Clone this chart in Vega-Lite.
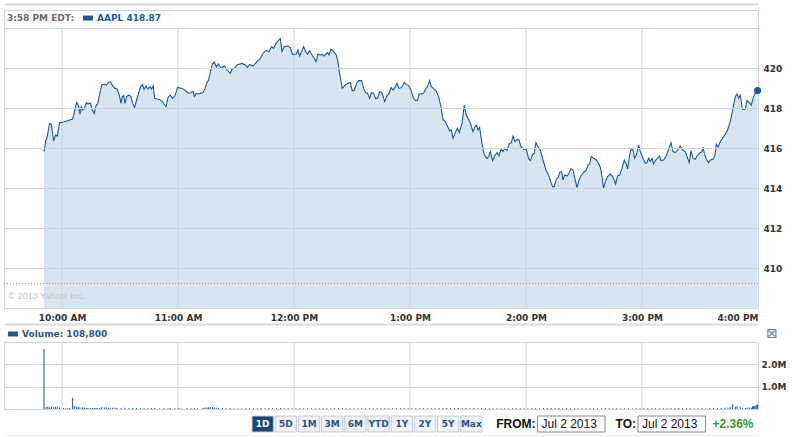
{
"$schema": "https://vega.github.io/schema/vega-lite/v6.json",
"padding": {"left": 3, "top": 3, "right": 0, "bottom": 0},
"background": "white",
"spacing": 0,
"config": {
  "font": "DejaVu Sans",
  "view": {"stroke": "#c9d6e2", "strokeWidth": 1},
  "axis": {"labelFont": "DejaVu Sans", "labelFontWeight": "bold", "labelFontSize": 9, "labelColor": "#333333", "domain": false, "ticks": false, "gridColor": "#c9d6e2", "gridOpacity": 1, "gridWidth": 1, "title": null}
},
"resolve": {"scale": {"x": "independent", "y": "independent", "color": "independent"}, "legend": {"color": "independent"}},
"datasets": {
  "hours": [{"t":"2013-07-02T10:00:00"},{"t":"2013-07-02T11:00:00"},{"t":"2013-07-02T12:00:00"},{"t":"2013-07-02T13:00:00"},{"t":"2013-07-02T14:00:00"},{"t":"2013-07-02T15:00:00"}],
  "last": [{"t":"2013-07-02T15:59:47","p":418.87}],
  "prevclose": [{"p":409.22}],
  "price": [
{"t":"2013-07-02T09:50:41","p":415.82},{"t":"2013-07-02T09:51:43","p":416.4},{"t":"2013-07-02T09:52:24","p":416.6},{"t":"2013-07-02T09:53:35","p":417.23},{"t":"2013-07-02T09:54:28","p":417.2},{"t":"2013-07-02T09:55:39","p":416.35},{"t":"2013-07-02T09:56:41","p":416.65},{"t":"2013-07-02T09:57:34","p":416.6},{"t":"2013-07-02T09:58:45","p":417.27},{"t":"2013-07-02T10:00:50","p":417.3},
{"t":"2013-07-02T10:05:29","p":417.45},{"t":"2013-07-02T10:06:22","p":417.78},{"t":"2013-07-02T10:07:33","p":418.28},{"t":"2013-07-02T10:08:26","p":418.15},{"t":"2013-07-02T10:09:19","p":417.68},{"t":"2013-07-02T10:09:59","p":418.07},{"t":"2013-07-02T10:10:39","p":417.9},{"t":"2013-07-02T10:11:32","p":417.98},{"t":"2013-07-02T10:12:34","p":418.27},{"t":"2013-07-02T10:13:27","p":418.2},
{"t":"2013-07-02T10:14:38","p":418.25},{"t":"2013-07-02T10:15:40","p":417.9},{"t":"2013-07-02T10:16:42","p":417.73},{"t":"2013-07-02T10:17:35","p":418.12},{"t":"2013-07-02T10:18:25","p":418.2},{"t":"2013-07-02T10:20:29","p":419.15},{"t":"2013-07-02T10:21:53","p":419.2},{"t":"2013-07-02T10:22:55","p":419.15},{"t":"2013-07-02T10:23:57","p":419.27},{"t":"2013-07-02T10:24:59","p":419.32},
{"t":"2013-07-02T10:26:10","p":419.12},{"t":"2013-07-02T10:27:25","p":418.98},{"t":"2013-07-02T10:28:27","p":418.95},{"t":"2013-07-02T10:29:38","p":418.65},{"t":"2013-07-02T10:30:31","p":418.23},{"t":"2013-07-02T10:31:11","p":418.57},{"t":"2013-07-02T10:31:52","p":418.62},{"t":"2013-07-02T10:32:35","p":418.23},{"t":"2013-07-02T10:33:25","p":418.57},{"t":"2013-07-02T10:34:39","p":418.65},
{"t":"2013-07-02T10:35:41","p":418.57},{"t":"2013-07-02T10:36:31","p":418.23},{"t":"2013-07-02T10:37:33","p":418.03},{"t":"2013-07-02T10:38:35","p":418.4},{"t":"2013-07-02T10:39:37","p":418.73},{"t":"2013-07-02T10:40:39","p":419.07},{"t":"2013-07-02T10:41:41","p":419.18},{"t":"2013-07-02T10:42:25","p":418.93},{"t":"2013-07-02T10:43:27","p":419.1},{"t":"2013-07-02T10:44:29","p":418.95},
{"t":"2013-07-02T10:45:31","p":419.07},{"t":"2013-07-02T10:46:21","p":418.95},{"t":"2013-07-02T10:47:13","p":419.12},{"t":"2013-07-02T10:47:54","p":418.48},{"t":"2013-07-02T10:49:08","p":418.45},{"t":"2013-07-02T10:50:29","p":418.43},{"t":"2013-07-02T10:51:53","p":418.32},{"t":"2013-07-02T10:52:46","p":418.2},{"t":"2013-07-02T10:53:47","p":418.07},{"t":"2013-07-02T10:54:50","p":418.53},
{"t":"2013-07-02T10:56:01","p":418.65},{"t":"2013-07-02T10:57:13","p":418.48},{"t":"2013-07-02T10:58:27","p":418.62},{"t":"2013-07-02T10:59:48","p":419.03},{"t":"2013-07-02T11:02:04","p":418.98},{"t":"2013-07-02T11:03:25","p":418.9},{"t":"2013-07-02T11:04:39","p":418.8},{"t":"2013-07-02T11:05:41","p":418.73},{"t":"2013-07-02T11:06:43","p":418.77},{"t":"2013-07-02T11:07:46","p":418.83},
{"t":"2013-07-02T11:08:26","p":418.57},{"t":"2013-07-02T11:09:19","p":418.73},{"t":"2013-07-02T11:10:08","p":418.7},{"t":"2013-07-02T11:11:32","p":418.73},{"t":"2013-07-02T11:12:56","p":418.77},{"t":"2013-07-02T11:13:58","p":418.98},{"t":"2013-07-02T11:15:00","p":419.27},{"t":"2013-07-02T11:15:50","p":419.4},{"t":"2013-07-02T11:16:43","p":419.8},{"t":"2013-07-02T11:17:45","p":420.2},
{"t":"2013-07-02T11:18:47","p":420.3},{"t":"2013-07-02T11:19:49","p":420.05},{"t":"2013-07-02T11:20:51","p":420.2},{"t":"2013-07-02T11:22:24","p":420.0},{"t":"2013-07-02T11:23:57","p":420.1},{"t":"2013-07-02T11:25:30","p":419.9},{"t":"2013-07-02T11:27:03","p":419.73},{"t":"2013-07-02T11:27:56","p":419.93},{"t":"2013-07-02T11:29:07","p":419.98},{"t":"2013-07-02T11:30:31","p":420.15},
{"t":"2013-07-02T11:33:06","p":420.23},{"t":"2013-07-02T11:34:49","p":420.15},{"t":"2013-07-02T11:36:00","p":420.03},{"t":"2013-07-02T11:37:02","p":420.18},{"t":"2013-07-02T11:38:47","p":420.1},{"t":"2013-07-02T11:40:52","p":420.32},{"t":"2013-07-02T11:42:34","p":420.48},{"t":"2013-07-02T11:44:17","p":420.77},{"t":"2013-07-02T11:45:40","p":420.87},{"t":"2013-07-02T11:47:04","p":420.82},
{"t":"2013-07-02T11:48:25","p":421.07},{"t":"2013-07-02T11:49:27","p":420.98},{"t":"2013-07-02T11:50:41","p":421.23},{"t":"2013-07-02T11:51:43","p":421.35},{"t":"2013-07-02T11:52:55","p":421.48},{"t":"2013-07-02T11:53:47","p":420.82},{"t":"2013-07-02T11:54:59","p":421.07},{"t":"2013-07-02T11:56:41","p":421.1},{"t":"2013-07-02T11:58:05","p":421.02},{"t":"2013-07-02T11:59:07","p":420.7},
{"t":"2013-07-02T12:00:10","p":420.68},{"t":"2013-07-02T12:01:11","p":420.7},{"t":"2013-07-02T12:02:04","p":420.9},{"t":"2013-07-02T12:02:54","p":420.6},{"t":"2013-07-02T12:03:56","p":420.82},{"t":"2013-07-02T12:04:58","p":421.07},{"t":"2013-07-02T12:06:00","p":420.82},{"t":"2013-07-02T12:07:02","p":420.7},{"t":"2013-07-02T12:08:04","p":420.87},{"t":"2013-07-02T12:09:19","p":420.65},
{"t":"2013-07-02T12:10:30","p":420.48},{"t":"2013-07-02T12:11:23","p":420.32},{"t":"2013-07-02T12:12:25","p":420.7},{"t":"2013-07-02T12:13:36","p":420.65},{"t":"2013-07-02T12:14:38","p":420.68},{"t":"2013-07-02T12:15:31","p":420.6},{"t":"2013-07-02T12:16:33","p":420.7},{"t":"2013-07-02T12:17:23","p":420.77},{"t":"2013-07-02T12:18:06","p":420.65},{"t":"2013-07-02T12:19:08","p":420.95},
{"t":"2013-07-02T12:20:29","p":420.82},{"t":"2013-07-02T12:21:53","p":420.65},{"t":"2013-07-02T12:22:33","p":420.4},{"t":"2013-07-02T12:23:35","p":419.73},{"t":"2013-07-02T12:24:59","p":418.98},{"t":"2013-07-02T12:26:32","p":419.15},{"t":"2013-07-02T12:27:43","p":419.23},{"t":"2013-07-02T12:29:07","p":419.27},{"t":"2013-07-02T12:30:09","p":418.85},{"t":"2013-07-02T12:31:11","p":418.9},
{"t":"2013-07-02T12:32:35","p":419.27},{"t":"2013-07-02T12:33:37","p":419.37},{"t":"2013-07-02T12:34:58","p":419.37},{"t":"2013-07-02T12:36:00","p":418.98},{"t":"2013-07-02T12:37:02","p":418.77},{"t":"2013-07-02T12:38:04","p":418.73},{"t":"2013-07-02T12:39:06","p":418.48},{"t":"2013-07-02T12:40:08","p":418.77},{"t":"2013-07-02T12:41:10","p":418.73},{"t":"2013-07-02T12:42:13","p":418.48},
{"t":"2013-07-02T12:43:14","p":418.48},{"t":"2013-07-02T12:44:17","p":418.82},{"t":"2013-07-02T12:45:31","p":418.78},{"t":"2013-07-02T12:46:52","p":418.32},{"t":"2013-07-02T12:48:06","p":418.62},{"t":"2013-07-02T12:49:08","p":418.73},{"t":"2013-07-02T12:50:10","p":419.03},{"t":"2013-07-02T12:51:13","p":418.9},{"t":"2013-07-02T12:52:14","p":419.03},{"t":"2013-07-02T12:53:17","p":419.23},
{"t":"2013-07-02T12:54:19","p":418.98},{"t":"2013-07-02T12:55:40","p":419.03},{"t":"2013-07-02T12:57:03","p":419.28},{"t":"2013-07-02T12:58:05","p":419.18},{"t":"2013-07-02T12:59:17","p":419.12},{"t":"2013-07-02T13:00:31","p":418.9},{"t":"2013-07-02T13:01:52","p":418.48},{"t":"2013-07-02T13:02:54","p":418.37},{"t":"2013-07-02T13:03:56","p":418.4},{"t":"2013-07-02T13:04:40","p":418.7},
{"t":"2013-07-02T13:05:51","p":418.7},{"t":"2013-07-02T13:07:02","p":418.73},{"t":"2013-07-02T13:08:04","p":418.95},{"t":"2013-07-02T13:09:06","p":419.07},{"t":"2013-07-02T13:10:08","p":419.37},{"t":"2013-07-02T13:11:01","p":419.07},{"t":"2013-07-02T13:12:13","p":418.98},{"t":"2013-07-02T13:13:36","p":418.85},{"t":"2013-07-02T13:14:47","p":418.57},{"t":"2013-07-02T13:16:02","p":418.07},
{"t":"2013-07-02T13:17:04","p":417.43},{"t":"2013-07-02T13:18:16","p":417.32},{"t":"2013-07-02T13:19:27","p":417.07},{"t":"2013-07-02T13:20:29","p":416.85},{"t":"2013-07-02T13:21:22","p":416.9},{"t":"2013-07-02T13:22:14","p":416.48},{"t":"2013-07-02T13:23:26","p":416.77},{"t":"2013-07-02T13:24:28","p":416.98},{"t":"2013-07-02T13:25:30","p":416.77},{"t":"2013-07-02T13:26:54","p":417.23},
{"t":"2013-07-02T13:28:05","p":418.15},{"t":"2013-07-02T13:29:07","p":417.65},{"t":"2013-07-02T13:30:19","p":417.43},{"t":"2013-07-02T13:31:33","p":417.15},{"t":"2013-07-02T13:32:35","p":416.82},{"t":"2013-07-02T13:33:37","p":417.07},{"t":"2013-07-02T13:34:27","p":417.15},{"t":"2013-07-02T13:35:10","p":416.9},{"t":"2013-07-02T13:36:00","p":417.03},{"t":"2013-07-02T13:37:14","p":416.23},
{"t":"2013-07-02T13:38:26","p":415.65},{"t":"2013-07-02T13:39:50","p":415.48},{"t":"2013-07-02T13:40:40","p":415.57},{"t":"2013-07-02T13:41:32","p":415.82},{"t":"2013-07-02T13:42:43","p":415.37},{"t":"2013-07-02T13:44:07","p":415.65},{"t":"2013-07-02T13:45:00","p":415.77},{"t":"2013-07-02T13:46:02","p":415.6},{"t":"2013-07-02T13:47:04","p":415.93},{"t":"2013-07-02T13:48:06","p":415.82},
{"t":"2013-07-02T13:48:56","p":415.98},{"t":"2013-07-02T13:50:10","p":415.87},{"t":"2013-07-02T13:51:13","p":416.2},{"t":"2013-07-02T13:52:24","p":416.27},{"t":"2013-07-02T13:53:17","p":416.6},{"t":"2013-07-02T13:54:19","p":416.32},{"t":"2013-07-02T13:55:20","p":416.43},{"t":"2013-07-02T13:56:23","p":416.4},{"t":"2013-07-02T13:57:25","p":416.07},{"t":"2013-07-02T13:58:46","p":415.93},
{"t":"2013-07-02T14:00:10","p":415.95},{"t":"2013-07-02T14:01:21","p":415.48},{"t":"2013-07-02T14:02:13","p":415.37},{"t":"2013-07-02T14:03:16","p":415.65},{"t":"2013-07-02T14:04:17","p":415.74},{"t":"2013-07-02T14:05:10","p":416.27},{"t":"2013-07-02T14:06:00","p":416.1},{"t":"2013-07-02T14:07:24","p":415.9},{"t":"2013-07-02T14:08:47","p":415.4},{"t":"2013-07-02T14:10:30","p":414.85},
{"t":"2013-07-02T14:11:41","p":414.65},{"t":"2013-07-02T14:12:56","p":414.27},{"t":"2013-07-02T14:13:46","p":414.07},{"t":"2013-07-02T14:14:38","p":414.07},{"t":"2013-07-02T14:15:40","p":414.44},{"t":"2013-07-02T14:16:43","p":414.54},{"t":"2013-07-02T14:17:23","p":414.77},{"t":"2013-07-02T14:18:25","p":414.82},{"t":"2013-07-02T14:19:08","p":414.4},{"t":"2013-07-02T14:19:58","p":414.65},
{"t":"2013-07-02T14:21:13","p":414.6},{"t":"2013-07-02T14:22:14","p":414.74},{"t":"2013-07-02T14:23:17","p":414.97},{"t":"2013-07-02T14:24:19","p":414.9},{"t":"2013-07-02T14:25:08","p":414.54},{"t":"2013-07-02T14:26:23","p":414.02},{"t":"2013-07-02T14:27:25","p":414.4},{"t":"2013-07-02T14:28:27","p":414.6},{"t":"2013-07-02T14:29:29","p":414.74},{"t":"2013-07-02T14:31:11","p":414.9},
{"t":"2013-07-02T14:32:04","p":415.15},{"t":"2013-07-02T14:32:54","p":415.2},{"t":"2013-07-02T14:33:47","p":415.57},{"t":"2013-07-02T14:34:58","p":415.49},{"t":"2013-07-02T14:36:22","p":415.4},{"t":"2013-07-02T14:37:33","p":415.24},{"t":"2013-07-02T14:38:26","p":415.04},{"t":"2013-07-02T14:39:19","p":414.57},{"t":"2013-07-02T14:40:08","p":413.99},{"t":"2013-07-02T14:41:01","p":414.32},
{"t":"2013-07-02T14:42:13","p":414.57},{"t":"2013-07-02T14:43:36","p":414.7},{"t":"2013-07-02T14:44:38","p":414.6},{"t":"2013-07-02T14:45:40","p":414.4},{"t":"2013-07-02T14:46:20","p":414.2},{"t":"2013-07-02T14:47:23","p":414.6},{"t":"2013-07-02T14:48:25","p":414.65},{"t":"2013-07-02T14:49:40","p":414.99},{"t":"2013-07-02T14:50:51","p":415.4},{"t":"2013-07-02T14:51:53","p":415.2},
{"t":"2013-07-02T14:52:33","p":414.94},{"t":"2013-07-02T14:53:35","p":415.65},{"t":"2013-07-02T14:54:28","p":415.94},{"t":"2013-07-02T14:55:21","p":415.9},{"t":"2013-07-02T14:56:10","p":415.49},{"t":"2013-07-02T14:57:03","p":415.65},{"t":"2013-07-02T14:58:14","p":416.15},{"t":"2013-07-02T14:59:07","p":415.82},{"t":"2013-07-02T15:00:31","p":415.49},{"t":"2013-07-02T15:01:43","p":415.24},
{"t":"2013-07-02T15:02:35","p":415.27},{"t":"2013-07-02T15:03:25","p":415.49},{"t":"2013-07-02T15:04:17","p":415.32},{"t":"2013-07-02T15:05:10","p":415.49},{"t":"2013-07-02T15:06:00","p":415.2},{"t":"2013-07-02T15:07:02","p":415.4},{"t":"2013-07-02T15:08:04","p":415.49},{"t":"2013-07-02T15:09:06","p":415.6},{"t":"2013-07-02T15:09:50","p":415.37},{"t":"2013-07-02T15:11:10","p":415.4},
{"t":"2013-07-02T15:12:25","p":415.57},{"t":"2013-07-02T15:13:46","p":415.94},{"t":"2013-07-02T15:15:00","p":416.27},{"t":"2013-07-02T15:16:02","p":415.82},{"t":"2013-07-02T15:17:13","p":415.77},{"t":"2013-07-02T15:18:25","p":415.9},{"t":"2013-07-02T15:19:49","p":416.1},{"t":"2013-07-02T15:21:00","p":415.9},{"t":"2013-07-02T15:22:24","p":415.82},{"t":"2013-07-02T15:23:35","p":415.49},
{"t":"2013-07-02T15:24:28","p":415.27},{"t":"2013-07-02T15:25:20","p":415.87},{"t":"2013-07-02T15:26:23","p":415.49},{"t":"2013-07-02T15:27:34","p":415.44},{"t":"2013-07-02T15:28:46","p":415.65},{"t":"2013-07-02T15:29:47","p":415.74},{"t":"2013-07-02T15:31:02","p":415.82},{"t":"2013-07-02T15:31:33","p":416.04},{"t":"2013-07-02T15:32:14","p":415.74},{"t":"2013-07-02T15:33:16","p":415.44},
{"t":"2013-07-02T15:34:27","p":415.27},{"t":"2013-07-02T15:35:20","p":415.4},{"t":"2013-07-02T15:36:43","p":415.44},{"t":"2013-07-02T15:37:46","p":415.65},{"t":"2013-07-02T15:38:26","p":416.2},{"t":"2013-07-02T15:39:19","p":416.04},{"t":"2013-07-02T15:40:30","p":416.32},{"t":"2013-07-02T15:42:13","p":416.57},{"t":"2013-07-02T15:43:58","p":416.82},{"t":"2013-07-02T15:45:40","p":417.32},
{"t":"2013-07-02T15:46:52","p":417.9},{"t":"2013-07-02T15:48:16","p":418.57},{"t":"2013-07-02T15:49:08","p":418.7},{"t":"2013-07-02T15:49:58","p":418.49},{"t":"2013-07-02T15:50:51","p":418.65},{"t":"2013-07-02T15:51:53","p":417.94},{"t":"2013-07-02T15:53:26","p":417.94},{"t":"2013-07-02T15:54:19","p":418.37},{"t":"2013-07-02T15:55:30","p":418.27},{"t":"2013-07-02T15:56:32","p":418.15},
{"t":"2013-07-02T15:57:43","p":418.57},{"t":"2013-07-02T15:58:58","p":418.82},{"t":"2013-07-02T15:59:47","p":418.87}
  ],
  "volume": [
{"t":"2013-07-02T09:50:41","v":2700000},{"t":"2013-07-02T09:51:43","v":90000},{"t":"2013-07-02T09:52:40","v":110000},{"t":"2013-07-02T09:53:35","v":80000},{"t":"2013-07-02T09:54:28","v":120000},{"t":"2013-07-02T09:55:39","v":95000},{"t":"2013-07-02T09:56:41","v":100000},{"t":"2013-07-02T09:57:34","v":85000},{"t":"2013-07-02T09:58:45","v":70000},{"t":"2013-07-02T10:00:50","v":40000},
{"t":"2013-07-02T10:02:00","v":35000},{"t":"2013-07-02T10:03:00","v":30000},{"t":"2013-07-02T10:04:00","v":40000},{"t":"2013-07-02T10:05:29","v":500000},{"t":"2013-07-02T10:06:22","v":150000},{"t":"2013-07-02T10:07:33","v":110000},{"t":"2013-07-02T10:08:26","v":90000},{"t":"2013-07-02T10:09:19","v":70000},{"t":"2013-07-02T10:10:39","v":80000},{"t":"2013-07-02T10:11:32","v":55000},
{"t":"2013-07-02T10:12:34","v":60000},{"t":"2013-07-02T10:13:27","v":45000},{"t":"2013-07-02T10:14:38","v":50000},{"t":"2013-07-02T10:15:40","v":40000},{"t":"2013-07-02T10:16:42","v":45000},{"t":"2013-07-02T10:17:35","v":40000},{"t":"2013-07-02T10:18:25","v":50000},{"t":"2013-07-02T10:19:30","v":45000},{"t":"2013-07-02T10:20:29","v":80000},{"t":"2013-07-02T10:21:53","v":70000},
{"t":"2013-07-02T10:22:55","v":75000},{"t":"2013-07-02T10:23:57","v":60000},{"t":"2013-07-02T10:24:59","v":70000},{"t":"2013-07-02T10:26:10","v":55000},{"t":"2013-07-02T10:27:25","v":60000},{"t":"2013-07-02T10:28:27","v":50000},{"t":"2013-07-02T10:30:31","v":45000},{"t":"2013-07-02T10:32:35","v":55000},{"t":"2013-07-02T10:34:39","v":50000},{"t":"2013-07-02T10:36:31","v":45000},
{"t":"2013-07-02T10:38:35","v":40000},{"t":"2013-07-02T10:40:39","v":50000},{"t":"2013-07-02T10:42:25","v":45000},{"t":"2013-07-02T10:44:29","v":40000},{"t":"2013-07-02T10:46:21","v":45000},{"t":"2013-07-02T10:48:00","v":40000},{"t":"2013-07-02T10:50:29","v":35000},{"t":"2013-07-02T10:52:46","v":40000},{"t":"2013-07-02T10:54:50","v":35000},{"t":"2013-07-02T10:56:01","v":40000},
{"t":"2013-07-02T10:58:27","v":35000},{"t":"2013-07-02T11:00:30","v":40000},{"t":"2013-07-02T11:02:04","v":35000},{"t":"2013-07-02T11:04:39","v":40000},{"t":"2013-07-02T11:06:43","v":35000},{"t":"2013-07-02T11:08:26","v":40000},{"t":"2013-07-02T11:10:08","v":35000},{"t":"2013-07-02T11:12:56","v":50000},{"t":"2013-07-02T11:13:58","v":65000},{"t":"2013-07-02T11:15:00","v":70000},
{"t":"2013-07-02T11:15:50","v":80000},{"t":"2013-07-02T11:16:43","v":75000},{"t":"2013-07-02T11:17:45","v":90000},{"t":"2013-07-02T11:18:47","v":70000},{"t":"2013-07-02T11:19:49","v":60000},{"t":"2013-07-02T11:21:00","v":45000},{"t":"2013-07-02T11:23:00","v":40000},{"t":"2013-07-02T11:25:00","v":35000},{"t":"2013-07-02T11:27:00","v":40000},{"t":"2013-07-02T11:29:00","v":35000},
{"t":"2013-07-02T11:31:00","v":30000},{"t":"2013-07-02T11:33:00","v":35000},{"t":"2013-07-02T11:35:00","v":30000},{"t":"2013-07-02T11:37:00","v":35000},{"t":"2013-07-02T11:39:00","v":30000},{"t":"2013-07-02T11:41:00","v":35000},{"t":"2013-07-02T11:43:00","v":40000},{"t":"2013-07-02T11:45:00","v":35000},{"t":"2013-07-02T11:47:00","v":40000},{"t":"2013-07-02T11:49:00","v":45000},
{"t":"2013-07-02T11:51:00","v":40000},{"t":"2013-07-02T11:53:00","v":45000},{"t":"2013-07-02T11:55:00","v":35000},{"t":"2013-07-02T11:57:00","v":30000},{"t":"2013-07-02T11:59:00","v":35000},{"t":"2013-07-02T12:01:00","v":30000},{"t":"2013-07-02T12:03:00","v":30000},{"t":"2013-07-02T12:05:00","v":35000},{"t":"2013-07-02T12:07:00","v":30000},{"t":"2013-07-02T12:09:00","v":30000},
{"t":"2013-07-02T12:11:00","v":35000},{"t":"2013-07-02T12:13:00","v":30000},{"t":"2013-07-02T12:15:00","v":30000},{"t":"2013-07-02T12:17:00","v":35000},{"t":"2013-07-02T12:19:00","v":30000},{"t":"2013-07-02T12:21:00","v":35000},{"t":"2013-07-02T12:23:00","v":40000},{"t":"2013-07-02T12:25:00","v":45000},{"t":"2013-07-02T12:27:00","v":35000},{"t":"2013-07-02T12:29:00","v":30000},
{"t":"2013-07-02T12:31:00","v":30000},{"t":"2013-07-02T12:33:00","v":35000},{"t":"2013-07-02T12:35:00","v":30000},{"t":"2013-07-02T12:37:00","v":30000},{"t":"2013-07-02T12:39:00","v":35000},{"t":"2013-07-02T12:41:00","v":30000},{"t":"2013-07-02T12:43:00","v":30000},{"t":"2013-07-02T12:45:00","v":35000},{"t":"2013-07-02T12:47:00","v":30000},{"t":"2013-07-02T12:49:00","v":30000},
{"t":"2013-07-02T12:51:00","v":35000},{"t":"2013-07-02T12:53:00","v":30000},{"t":"2013-07-02T12:55:00","v":30000},{"t":"2013-07-02T12:57:00","v":35000},{"t":"2013-07-02T12:59:00","v":30000},{"t":"2013-07-02T13:01:00","v":35000},{"t":"2013-07-02T13:03:00","v":30000},{"t":"2013-07-02T13:05:00","v":30000},{"t":"2013-07-02T13:07:00","v":35000},{"t":"2013-07-02T13:09:00","v":30000},
{"t":"2013-07-02T13:11:00","v":35000},{"t":"2013-07-02T13:13:00","v":30000},{"t":"2013-07-02T13:15:00","v":40000},{"t":"2013-07-02T13:17:00","v":50000},{"t":"2013-07-02T13:19:00","v":45000},{"t":"2013-07-02T13:21:00","v":40000},{"t":"2013-07-02T13:23:00","v":45000},{"t":"2013-07-02T13:25:00","v":40000},{"t":"2013-07-02T13:27:00","v":50000},{"t":"2013-07-02T13:29:00","v":40000},
{"t":"2013-07-02T13:31:00","v":35000},{"t":"2013-07-02T13:33:00","v":40000},{"t":"2013-07-02T13:35:00","v":35000},{"t":"2013-07-02T13:37:00","v":40000},{"t":"2013-07-02T13:39:00","v":45000},{"t":"2013-07-02T13:41:00","v":35000},{"t":"2013-07-02T13:43:00","v":30000},{"t":"2013-07-02T13:45:00","v":35000},{"t":"2013-07-02T13:47:00","v":30000},{"t":"2013-07-02T13:49:00","v":35000},
{"t":"2013-07-02T13:51:00","v":30000},{"t":"2013-07-02T13:53:00","v":35000},{"t":"2013-07-02T13:55:00","v":30000},{"t":"2013-07-02T13:57:00","v":30000},{"t":"2013-07-02T13:59:00","v":35000},{"t":"2013-07-02T14:01:00","v":30000},{"t":"2013-07-02T14:03:00","v":30000},{"t":"2013-07-02T14:05:00","v":35000},{"t":"2013-07-02T14:07:00","v":30000},{"t":"2013-07-02T14:09:00","v":40000},
{"t":"2013-07-02T14:11:00","v":45000},{"t":"2013-07-02T14:13:00","v":40000},{"t":"2013-07-02T14:15:00","v":45000},{"t":"2013-07-02T14:17:00","v":40000},{"t":"2013-07-02T14:19:00","v":35000},{"t":"2013-07-02T14:21:00","v":40000},{"t":"2013-07-02T14:23:00","v":35000},{"t":"2013-07-02T14:25:00","v":30000},{"t":"2013-07-02T14:27:00","v":35000},{"t":"2013-07-02T14:29:00","v":30000},
{"t":"2013-07-02T14:31:00","v":30000},{"t":"2013-07-02T14:33:00","v":35000},{"t":"2013-07-02T14:35:00","v":30000},{"t":"2013-07-02T14:37:00","v":30000},{"t":"2013-07-02T14:39:00","v":35000},{"t":"2013-07-02T14:41:00","v":40000},{"t":"2013-07-02T14:43:00","v":35000},{"t":"2013-07-02T14:45:00","v":30000},{"t":"2013-07-02T14:47:00","v":35000},{"t":"2013-07-02T14:49:00","v":30000},
{"t":"2013-07-02T14:51:00","v":35000},{"t":"2013-07-02T14:53:00","v":30000},{"t":"2013-07-02T14:55:00","v":35000},{"t":"2013-07-02T14:57:00","v":30000},{"t":"2013-07-02T14:59:00","v":35000},{"t":"2013-07-02T15:01:00","v":30000},{"t":"2013-07-02T15:03:00","v":30000},{"t":"2013-07-02T15:05:00","v":35000},{"t":"2013-07-02T15:07:00","v":30000},{"t":"2013-07-02T15:09:00","v":35000},
{"t":"2013-07-02T15:11:00","v":30000},{"t":"2013-07-02T15:13:00","v":35000},{"t":"2013-07-02T15:15:00","v":40000},{"t":"2013-07-02T15:17:00","v":35000},{"t":"2013-07-02T15:19:00","v":40000},{"t":"2013-07-02T15:21:00","v":35000},{"t":"2013-07-02T15:23:00","v":30000},{"t":"2013-07-02T15:25:00","v":35000},{"t":"2013-07-02T15:27:00","v":30000},{"t":"2013-07-02T15:29:00","v":35000},
{"t":"2013-07-02T15:31:00","v":40000},{"t":"2013-07-02T15:33:00","v":35000},{"t":"2013-07-02T15:35:00","v":40000},{"t":"2013-07-02T15:37:00","v":45000},{"t":"2013-07-02T15:39:00","v":50000},{"t":"2013-07-02T15:41:00","v":45000},{"t":"2013-07-02T15:43:00","v":60000},{"t":"2013-07-02T15:44:30","v":70000},{"t":"2013-07-02T15:45:40","v":90000},{"t":"2013-07-02T15:46:52","v":220000},
{"t":"2013-07-02T15:48:16","v":100000},{"t":"2013-07-02T15:49:08","v":120000},{"t":"2013-07-02T15:50:51","v":90000},{"t":"2013-07-02T15:51:53","v":60000},{"t":"2013-07-02T15:53:26","v":50000},{"t":"2013-07-02T15:54:19","v":55000},{"t":"2013-07-02T15:55:30","v":70000},{"t":"2013-07-02T15:56:32","v":60000},{"t":"2013-07-02T15:57:10","v":110000},{"t":"2013-07-02T15:57:43","v":130000},
{"t":"2013-07-02T15:58:20","v":150000},{"t":"2013-07-02T15:58:58","v":170000},{"t":"2013-07-02T15:59:30","v":190000},{"t":"2013-07-02T15:59:47","v":200000}
  ],
  "buttons": [{"b":"1D"},{"b":"5D"},{"b":"1M"},{"b":"3M"},{"b":"6M"},{"b":"YTD"},{"b":"1Y"},{"b":"2Y"},{"b":"5Y"},{"b":"Max"}],
  "dates": [{"box":"from","label":"FROM:","date":"Jul 2 2013","chg":""},{"box":"to","label":"TO:","date":"Jul 2 2013","chg":"+2.36%"}]
},
"vconcat": [
{
  "width": 754, "height": 298,
  "title": {"text": "© 2013 Yahoo! Inc.", "orient": "bottom", "anchor": "start", "offset": -30, "dx": 5, "font": "Liberation Sans", "fontSize": 9, "fontWeight": "normal", "color": "#c2c6cb"},
  "layer": [
    {"data": {"name": "price"}, "mark": {"type": "area", "color": "#d6e5f0", "opacity": 1, "clip": true},
     "encoding": {
        "x": {"field": "t", "type": "temporal",
          "scale": {"domain": [{"year":2013,"month":7,"date":2,"hours":9,"minutes":30},{"year":2013,"month":7,"date":2,"hours":16}]},
          "axis": {"values": [{"year":2013,"month":7,"date":2,"hours":10},{"year":2013,"month":7,"date":2,"hours":11},{"year":2013,"month":7,"date":2,"hours":12},{"year":2013,"month":7,"date":2,"hours":13},{"year":2013,"month":7,"date":2,"hours":14},{"year":2013,"month":7,"date":2,"hours":15},{"year":2013,"month":7,"date":2,"hours":16}],
            "format": "%-I:%M %p", "grid": false, "labelFlush": true, "labelPadding": 5, "labelOverlap": false, "zindex": 1}},
        "y": {"field": "p", "type": "quantitative",
          "scale": {"domain": [408, 422.9], "zero": false, "nice": false},
          "axis": {"orient": "right", "values": [410,412,414,416,418,420,422], "labelExpr": "datum.value > 421 ? '' : datum.label", "grid": true, "labelPadding": 5, "zindex": 1}},
        "y2": {"datum": 408}}},
    {"data": {"name": "hours"}, "mark": {"type": "rule", "color": "#c9d6e2", "strokeWidth": 1},
     "encoding": {
        "x": {"field": "t", "type": "temporal", "axis": {"orient": "top", "domain": true, "domainColor": "#dcdcdc", "domainWidth": 2, "labels": false, "grid": false, "ticks": false, "offset": 6, "values": []}},
        "y": {"datum": 408}, "y2": {"datum": 422}}},
    {"data": {"name": "prevclose"}, "mark": {"type": "rule", "color": "#e07a48", "strokeDash": [1, 2], "strokeWidth": 1},
     "encoding": {"y": {"field": "p", "type": "quantitative"}}},
    {"data": {"name": "price"}, "mark": {"type": "line", "color": "#1d5a94", "strokeWidth": 1.1},
     "encoding": {"x": {"field": "t", "type": "temporal", "axis": null}, "y": {"field": "p", "type": "quantitative"}}},
    {"data": {"name": "last"}, "mark": {"type": "point", "filled": true, "size": 50, "opacity": 1},
     "encoding": {"x": {"field": "t", "type": "temporal", "axis": null}, "y": {"field": "p", "type": "quantitative"},
       "color": {"datum": "AAPL 418.87", "scale": {"range": ["#1d5a94"]},
         "legend": {"orient": "top-left", "offset": 3, "padding": 0, "title": "3:58 PM EDT:", "titleOrient": "left", "titleFont": "DejaVu Sans", "titleFontSize": 9, "titleFontWeight": "bold", "titleColor": "#6b6b6b", "titlePadding": 8, "labelFont": "DejaVu Sans", "labelFontSize": 9, "labelFontWeight": "bold", "labelColor": "#1e5a96", "labelOffset": 4, "symbolType": "M-1,-0.5H1V0.5H-1Z", "symbolSize": 100, "symbolStrokeWidth": 0}}}}
  ],
  "resolve": {"axis": {"x": "independent"}}
},
{
  "width": 754, "height": 67,
  "title": {"text": "⊠", "orient": "top", "anchor": "end", "frame": "bounds", "offset": -17, "dx": -8, "font": "DejaVu Sans", "fontSize": 14, "fontWeight": "normal", "color": "#7a7a7a"},
  "layer": [
    {"data": {"name": "hours"}, "mark": {"type": "rule", "color": "#c9d6e2", "strokeWidth": 1},
     "encoding": {
        "x": {"field": "t", "type": "temporal",
          "scale": {"domain": [{"year":2013,"month":7,"date":2,"hours":9,"minutes":30},{"year":2013,"month":7,"date":2,"hours":16}], "padding": 0},
          "axis": {"orient": "top", "domain": true, "domainColor": "#dcdcdc", "domainWidth": 2, "labels": false, "grid": false, "ticks": false, "offset": 18, "values": []}}}},
    {"data": {"name": "volume"}, "mark": {"type": "bar", "width": 1},
     "encoding": {
        "x": {"field": "t", "type": "temporal"},
        "y": {"field": "v", "type": "quantitative", "scale": {"domain": [0, 3000000], "nice": false},
          "axis": {"orient": "right", "values": [1000000, 2000000], "labelExpr": "format(datum.value / 1000000, '.1f') + 'M'", "grid": true, "labelPadding": 3, "labelOverlap": false}},
        "color": {"datum": "Volume: 108,800", "scale": {"range": ["#1d5a94"]},
          "legend": {"orient": "none", "legendX": 4, "legendY": -13, "padding": 0, "title": null, "labelFont": "DejaVu Sans", "labelFontSize": 9, "labelFontWeight": "bold", "labelColor": "#1e5a96", "labelOffset": 4, "symbolType": "M-1,-0.5H1V0.5H-1Z", "symbolSize": 100, "symbolStrokeWidth": 0}}}}
  ]
},
{
  "width": 754, "height": 22,
  "view": {"stroke": null},
  "encoding": {"y": {"datum": "row", "type": "nominal", "axis": null, "scale": {"type": "band", "domain": ["row"], "range": [6, 22], "paddingInner": 0, "paddingOuter": 0}}},
  "layer": [
    {"data": {"name": "buttons"},
     "encoding": {"x": {"field": "b", "type": "nominal", "sort": null, "axis": null,
        "scale": {"type": "band", "domain": ["1D","5D","1M","3M","6M","YTD","1Y","2Y","5Y","Max"], "range": [248, 478], "paddingInner": 0.08, "paddingOuter": 0}}},
     "layer": [
       {"mark": {"type": "rect", "stroke": "#c3cad3", "strokeWidth": 1},
        "encoding": {"fill": {"condition": {"test": "datum.b === '1D'", "value": "#1b4678"}, "value": "#eef1f5"}}},
       {"mark": {"type": "text", "font": "DejaVu Sans", "fontSize": 9, "fontWeight": "bold"},
        "encoding": {"text": {"field": "b"}, "color": {"condition": {"test": "datum.b === '1D'", "value": "#ffffff"}, "value": "#2b5389"}}}
     ]},
    {"data": {"name": "dates"},
     "encoding": {"x": {"field": "box", "type": "nominal", "sort": null, "axis": null,
        "scale": {"type": "band", "domain": ["from", "to"], "range": [533.5, 701.5], "paddingInner": 0.328, "paddingOuter": 0}}},
     "layer": [
       {"mark": {"type": "rect", "fill": "#ffffff", "stroke": "#8a8a8a", "strokeWidth": 1}},
       {"mark": {"type": "text", "align": "right", "dx": -2, "font": "Liberation Sans", "fontSize": 12, "fontWeight": "bold", "color": "#111111"},
        "encoding": {"x": {"field": "box", "type": "nominal", "bandPosition": 0}, "text": {"field": "label"}}},
       {"mark": {"type": "text", "align": "left", "dx": 4, "font": "Liberation Sans", "fontSize": 12, "color": "#111111"},
        "encoding": {"x": {"field": "box", "type": "nominal", "bandPosition": 0}, "text": {"field": "date"}}},
       {"mark": {"type": "text", "align": "right", "dx": 48, "font": "Liberation Sans", "fontSize": 12, "fontWeight": "bold", "color": "#3a9a2a"},
        "encoding": {"x": {"field": "box", "type": "nominal", "bandPosition": 1}, "text": {"field": "chg"}}}
     ]},
    {"data": {"name": "last"}, "mark": {"type": "point", "opacity": 0},
     "encoding": {"x": {"field": "t", "type": "temporal",
        "scale": {"domain": [{"year":2013,"month":7,"date":2,"hours":9,"minutes":30},{"year":2013,"month":7,"date":2,"hours":16}]},
        "axis": {"orient": "bottom", "domain": true, "domainColor": "#dcdcdc", "domainWidth": 2, "labels": false, "grid": false, "ticks": false, "offset": 4, "values": []}}}}
  ],
  "resolve": {"scale": {"x": "independent"}}
}
]
}
